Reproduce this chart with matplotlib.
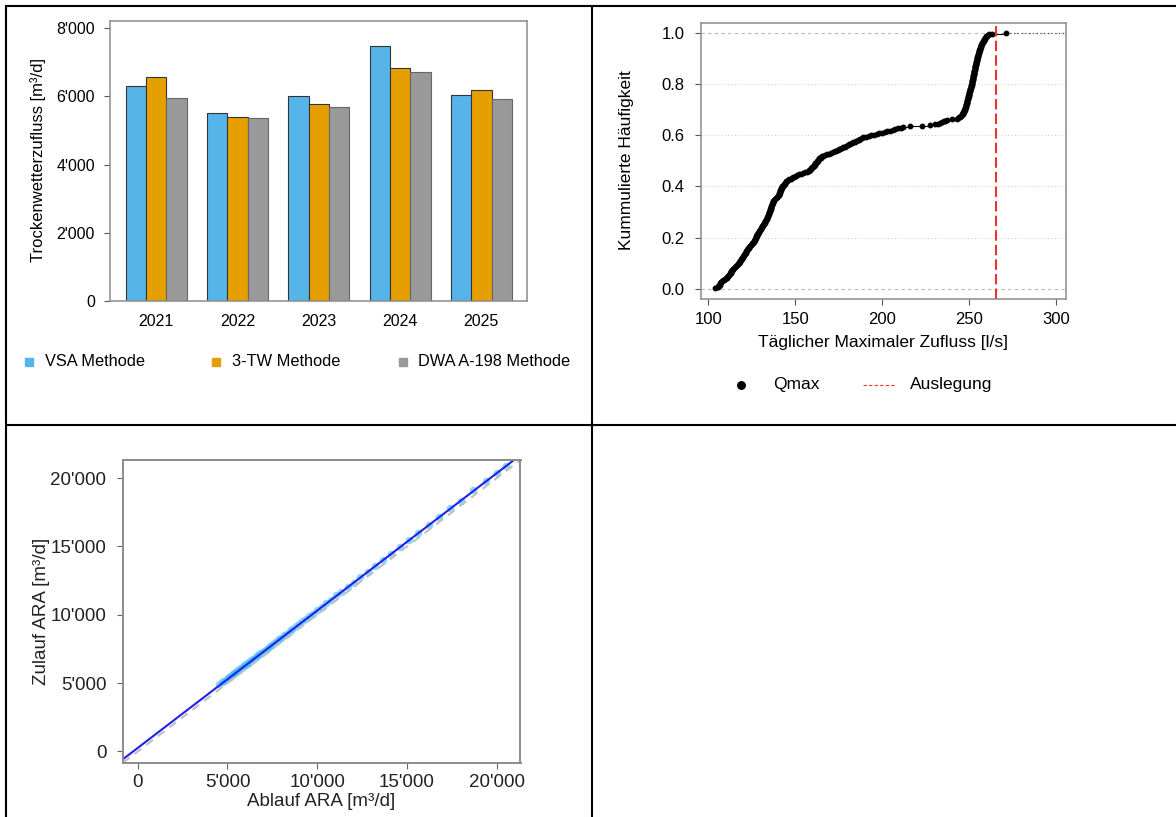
import matplotlib
matplotlib.use("Agg")
import matplotlib.pyplot as plt
import numpy as np
from matplotlib.lines import Line2D
from matplotlib.ticker import FuncFormatter

plt.rcParams['font.family'] = ['Liberation Sans', 'DejaVu Sans']

W, H = 1176, 817

# --- chart 1: Trockenwetterzufluss per year and method
years = ["2021", "2022", "2023", "2024", "2025"]
methods = ["VSA Methode", "3-TW Methode", "DWA A-198 Methode"]
vsa = [6300, 5510, 6020, 7465, 6050]
tw3 = [6580, 5390, 5770, 6830, 6180]
dwa = [5940, 5360, 5700, 6730, 5920]
bar_colors = ["#56B4E9", "#E69F00", "#999999"]
bar_edges = ["#333333", "#333333", "#666666"]

# --- chart 2: ECDF of daily max inflow [l/s]
qmax = [
    103.8, 104.9, 105.7, 106.0, 106.2, 106.4, 106.6, 106.8, 107.0, 107.3,
    107.6, 108.2, 108.8, 109.4, 110.0, 110.5, 110.8, 111.1, 111.4, 111.8,
    112.1, 112.4, 112.7, 113.0, 113.2, 113.5, 113.8, 114.0, 114.3, 114.7,
    115.1, 115.6, 116.0, 116.4, 116.8, 117.2, 117.5, 117.7, 118.0, 118.3,
    118.5, 118.8, 119.1, 119.3, 119.6, 119.8, 120.1, 120.3, 120.6, 120.8,
    121.1, 121.3, 121.5, 121.8, 122.0, 122.3, 122.5, 122.8, 123.0, 123.4,
    123.7, 124.1, 124.4, 124.8, 125.2, 125.5, 125.9, 126.1, 126.3, 126.5,
    126.7, 126.9, 127.1, 127.3, 127.5, 127.6, 127.8, 128.0, 128.3, 128.5,
    128.8, 129.0, 129.2, 129.5, 129.7, 130.0, 130.2, 130.5, 130.7, 130.9,
    131.2, 131.4, 131.7, 131.9, 132.2, 132.4, 132.6, 132.9, 133.1, 133.4,
    133.6, 133.8, 133.9, 134.1, 134.2, 134.4, 134.5, 134.7, 134.8, 135.0,
    135.1, 135.3, 135.5, 135.6, 135.7, 135.9, 136.0, 136.1, 136.2, 136.4,
    136.5, 136.6, 136.8, 136.9, 137.0, 137.2, 137.4, 137.8, 138.2, 138.6,
    139.1, 139.5, 139.9, 140.3, 140.4, 140.6, 140.7, 140.9, 141.0, 141.2,
    141.3, 141.5, 141.7, 141.8, 142.0, 142.2, 142.5, 142.8, 143.2, 143.5,
    143.8, 144.1, 144.5, 144.8, 145.1, 145.8, 146.5, 147.2, 148.0, 148.7,
    149.4, 150.1, 150.8, 151.9, 153.0, 154.2, 155.3, 156.4, 157.5, 157.9,
    158.3, 158.7, 159.2, 159.6, 160.0, 160.4, 160.7, 161.0, 161.3, 161.5,
    161.8, 162.1, 162.4, 162.7, 163.0, 163.3, 163.8, 164.4, 164.9, 165.5,
    166.0, 167.1, 168.3, 169.4, 170.6, 171.7, 172.5, 173.4, 174.2, 175.0,
    175.8, 176.7, 177.5, 178.3, 179.1, 179.9, 180.8, 181.6, 182.4, 183.2,
    184.0, 184.9, 185.7, 186.5, 187.3, 188.2, 189.0, 190.5, 192.1, 193.6,
    195.2, 196.7, 198.2, 199.8, 201.3, 202.8, 204.3, 205.8, 207.4, 208.9,
    210.5, 212.0, 215.8, 222.6, 227.3, 230.1, 231.8, 233.1, 234.2, 235.1,
    236.0, 236.9, 239.8, 242.7, 243.4, 244.0, 244.6, 245.1, 245.6, 245.8,
    246.0, 246.2, 246.5, 246.7, 246.9, 247.1, 247.3, 247.5, 247.6, 247.7,
    247.8, 247.9, 248.0, 248.1, 248.2, 248.3, 248.4, 248.5, 248.6, 248.7,
    248.8, 248.9, 249.0, 249.2, 249.3, 249.4, 249.5, 249.6, 249.7, 249.8,
    249.9, 250.0, 250.1, 250.2, 250.3, 250.4, 250.5, 250.6, 250.7, 250.8,
    250.9, 251.0, 251.2, 251.3, 251.4, 251.5, 251.6, 251.6, 251.7, 251.8,
    251.9, 252.0, 252.0, 252.1, 252.2, 252.3, 252.4, 252.4, 252.5, 252.6,
    252.7, 252.8, 252.8, 252.9, 253.0, 253.1, 253.1, 253.2, 253.3, 253.4,
    253.5, 253.6, 253.7, 253.8, 253.9, 254.0, 254.1, 254.2, 254.3, 254.4,
    254.5, 254.6, 254.7, 254.8, 254.9, 255.0, 255.1, 255.2, 255.4, 255.5,
    255.6, 255.7, 255.9, 256.0, 256.1, 256.3, 256.4, 256.5, 256.7, 256.8,
    257.0, 257.2, 257.4, 257.7, 257.9, 258.1, 258.4, 258.6, 258.8, 259.1,
    259.3, 259.6, 259.9, 260.6, 261.4, 262.8, 270.9,
]
auslegung = 265

# --- chart 3: Ablauf vs Zulauf ARA [m3/d]
ablauf = [4550, 4700, 4820, 4900, 5010, 5080, 5150, 5230, 5300, 5380,
          5450, 5520, 5600, 5680, 5750, 5840, 5920, 6010, 6100, 6180,
          6270, 6350, 6440, 6530, 6620, 6720, 6810, 6900, 7010, 7120,
          7230, 7350, 7470, 7600, 7730, 7860, 8000, 8150, 8300, 8460,
          8620, 8800, 8980, 9170, 9360, 9560, 9770, 10000, 10250, 10500,
          10780, 11050, 11350, 11700, 12050, 12400, 12800, 13200, 13650, 14100,
          14600, 15100, 15600, 16200, 16800, 17400, 18000, 18700, 19400, 20000,
          20500]
zulauf = [4920, 5110, 5180, 5230, 5400, 5430, 5460, 5610, 5640, 5760,
          5790, 5880, 5960, 6000, 6130, 6170, 6300, 6330, 6480, 6500,
          6640, 6680, 6790, 6860, 6990, 7050, 7180, 7230, 7380, 7440,
          7600, 7680, 7820, 7950, 8060, 8230, 8330, 8520, 8620, 8840,
          8950, 9160, 9290, 9540, 9680, 9910, 10080, 10360, 10570, 10870,
          11100, 11420, 11690, 12060, 12360, 12780, 13120, 13590, 13990, 14470,
          14930, 15480, 15950, 16560, 17150, 17790, 18330, 19090, 19750, 20390,
          20850]
fit_intercept = 260
fit_slope = 1.005


def px_axes(fig, left, top, right, bottom):
    return fig.add_axes([left / W, 1 - bottom / H, (right - left) / W, (bottom - top) / H])


def ftext(fig, x, y, s, **kw):
    return fig.text(x / W, 1 - y / H, s, **kw)


def fline(fig, xs, ys, **kw):
    fig.add_artist(Line2D([x / W for x in xs], [1 - y / H for y in ys],
                          transform=fig.transFigure, **kw))


def style_frame(ax, color="#8c8c8c", lw=1.1):
    for sp in ax.spines.values():
        sp.set_color(color)
        sp.set_linewidth(lw)


apos = FuncFormatter(lambda v, _: f"{v:,.0f}".replace(",", "'"))

fig = plt.figure(figsize=(W / 100, H / 100), dpi=100)

# table borders
border = dict(color="black", lw=1.5, solid_capstyle="butt")
fline(fig, [5, W], [6, 6], **border)
fline(fig, [6, 6], [5, H], **border)
fline(fig, [592, 592], [5, H], **border)
fline(fig, [5, W], [425, 425], **border)

# ---------------- chart 1
ax1 = px_axes(fig, 110.3, 21, 527.3, 301)
series = [vsa, tw3, dwa]
for j, vals in enumerate(series):
    xs = [1.5 + 4 * g + j for g in range(len(years))]
    ax1.bar(xs, vals, width=1, color=bar_colors[j], edgecolor=bar_edges[j],
            linewidth=0.8)
ax1.set_xlim(0.24, 20.76)
ax1.set_ylim(0, 1.1 * max(max(s) for s in series))
ax1.set_xticks([2.5 + 4 * g for g in range(len(years))])
ax1.set_xticklabels(years)
ax1.set_yticks(range(0, 8001, 2000))
ax1.yaxis.set_major_formatter(apos)
ax1.tick_params(axis="x", length=0, pad=9, labelsize=11.5)
ax1.tick_params(axis="y", length=4, width=0.8, color="#555555", pad=7, labelsize=11.5)
style_frame(ax1)
ftext(fig, 37.6, 160, "Trockenwetterzufluss [m³/d]", rotation=90,
      ha="center", va="center", fontsize=12)
for (sx, tx), lab, col in zip([(29.4, 45), (216, 232), (403, 418.5)], methods, bar_colors):
    fline(fig, [sx], [362], marker="s", ms=5.8, color=col, lw=0)
    ftext(fig, tx, 362, lab, ha="left", va="center", fontsize=11.8)

# ---------------- chart 2
ax2 = px_axes(fig, 701, 22.7, 1065.7, 299)
x = np.array(qmax)
F = np.arange(1, len(x) + 1) / len(x)
xlim2 = (95.7, 305.3)
ax2.set_xlim(*xlim2)
ax2.set_ylim(-0.04, 1.04)
for gy in [0.2, 0.4, 0.6, 0.8]:
    ax2.axhline(gy, color="#d3d3d3", lw=0.8, ls=(0, (1, 2)), zorder=0)
for gy in [0.0, 1.0]:
    ax2.axhline(gy, color="#b8b8b8", lw=0.8, ls=(0, (3, 3)), zorder=0)
ax2.hlines(F[:-1], x[:-1], x[1:], color="black", lw=0.8)
ax2.plot([x[-1], xlim2[1]], [1, 1], color="#555555", lw=0.9, ls=(0, (1, 2)))
ax2.plot(x, F, "o", ms=3.2, color="black")
ax2.axvline(auslegung, color="#f03030", lw=1.5, dashes=(5, 2))
ax2.set_xticks(range(100, 301, 50))
ax2.set_yticks(np.arange(0, 1.01, 0.2))
ax2.yaxis.set_major_formatter(FuncFormatter(lambda v, _: f"{v:.1f}"))
ax2.tick_params(axis="both", length=4, width=0.8, color="#555555", labelsize=12)
ax2.tick_params(axis="y", pad=8)
ax2.tick_params(axis="x", pad=5)
style_frame(ax2)
ftext(fig, 626, 160, "Kummulierte Häufigkeit", rotation=90, ha="center",
      va="center", fontsize=12.5)
ftext(fig, 883, 343, "Täglicher Maximaler Zufluss [l/s]", ha="center",
      va="center", fontsize=12.5)
fline(fig, [741], [385], marker="o", ms=5.4, color="black", lw=0)
ftext(fig, 773, 385, "Qmax", ha="left", va="center", fontsize=12.5)
fline(fig, [863, 896], [385, 385], color="#f03030", lw=0.8, dashes=(3, 2))
ftext(fig, 909.5, 385, "Auslegung", ha="left", va="center", fontsize=12.5)

# ---------------- chart 3
ax3 = px_axes(fig, 123, 460, 520.5, 762.7)
lim3 = (-820, 21320)
ax3.set_xlim(*lim3)
ax3.set_ylim(*lim3)
ax3.scatter(ablauf, zulauf, s=30, color="#45bdf0", alpha=0.6, linewidths=0)
ax3.axline((0, 0), slope=1, color="#c0c0c0", lw=1.5, dashes=(4, 3))
ax3.axline((0, fit_intercept), slope=fit_slope, color="#2020ee", lw=1.5)
ax3.set_xticks(range(0, 20001, 5000))
ax3.set_yticks(range(0, 20001, 5000))
ax3.xaxis.set_major_formatter(apos)
ax3.yaxis.set_major_formatter(apos)
ax3.tick_params(axis="both", length=4, width=0.8, color="#666666",
                labelsize=13.5, labelcolor="#222222")
ax3.tick_params(axis="y", pad=8)
ax3.tick_params(axis="x", pad=4)
style_frame(ax3, color="#8c8c8c", lw=1.4)
ftext(fig, 42, 611, "Zulauf ARA [m³/d]", rotation=90, ha="center",
      va="center", fontsize=13.5, color="#222222")
ftext(fig, 321, 801, "Ablauf ARA [m³/d]", ha="center", va="center",
      fontsize=13.5, color="#222222")

fig.savefig("out.png", dpi=100)
